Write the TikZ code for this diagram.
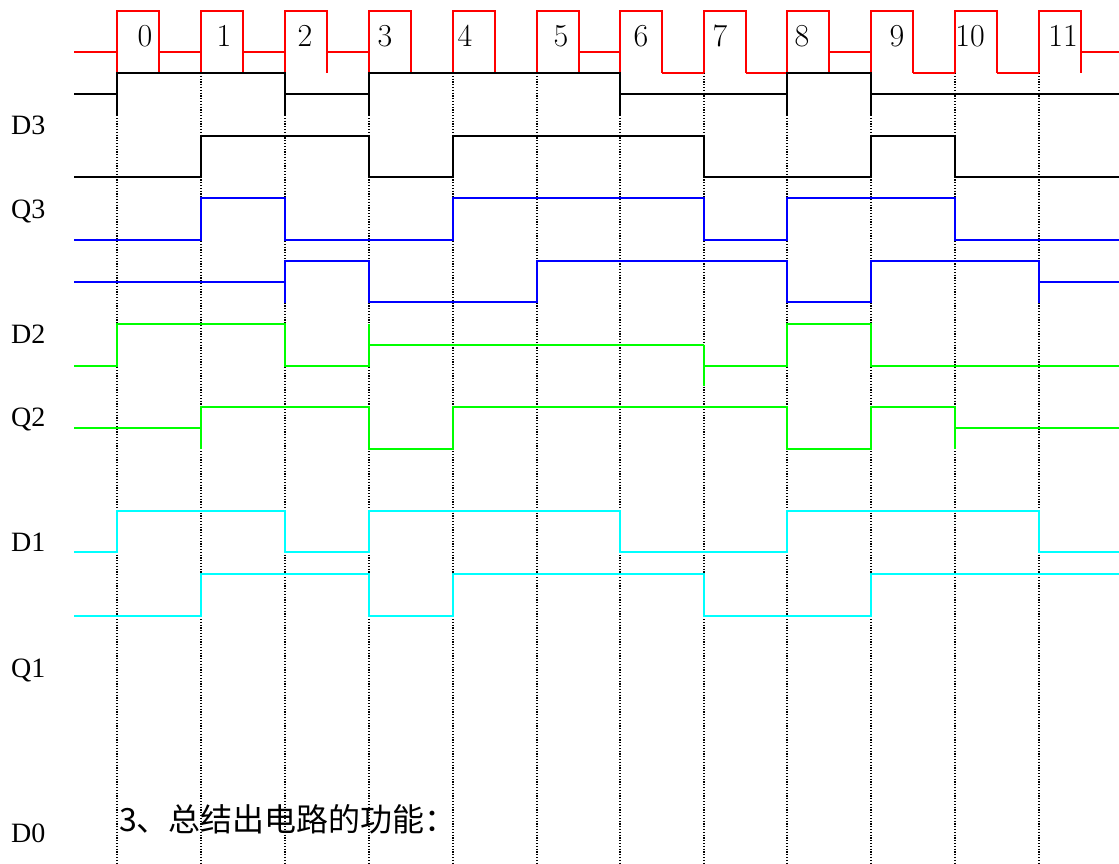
\documentclass[tikz,border=0pt]{standalone}
\usepackage{fontspec}
\newfontfamily\tnr{Liberation Serif}
\newfontfamily\cjk{Noto Sans CJK SC}
\definecolor{sigred}{RGB}{255,0,0}
\definecolor{sigblue}{RGB}{0,0,255}
\definecolor{siggreen}{RGB}{0,255,0}
\definecolor{sigcyan}{RGB}{0,255,255}
\tikzset{
  wave/.style={line width=1.8pt, line join=miter},
  grid/.style={black, line width=1.2pt, dash pattern=on 1.2pt off 1.6pt},
  rowlabel/.style={anchor=base west, inner sep=0pt, font=\tnr\fontsize{28}{30}\selectfont},
  ticklabel/.style={anchor=center, inner sep=0pt, font=\fontsize{32}{34}\selectfont},
}
\begin{document}
\begin{tikzpicture}[x=1pt,y=-1pt]
\useasboundingbox (0,0) rectangle (1119,864);
% dotted time grid
\foreach \x in {117,201,285,369,453,537,620,704,787,871,955,1039}
  \draw[grid] (\x,73) -- (\x,864);
% clock (red)
\foreach \x in {117,201,285,369,453,537,620,704,787,871,955,1039}
  \draw[wave,sigred] (\x,73) -- (\x,11) -- (\x+42,11) -- (\x+42,73);
\foreach \a/\b in {74/117,159/201,243/285,327/369,579/620,829/871,1081/1119}
  \draw[wave,sigred] (\a,52) -- (\b,52);
\foreach \a/\b in {411/453,495/537,662/704,746/787,913/955,997/1039}
  \draw[wave,sigred] (\a,73) -- (\b,73);
% clock numbers
\foreach \x/\t [count=\i from 0] in {145/0,224/1,305/2,385/3,465/4,561/5,641/6,720/7,802/8,897/9,970/10,1063/11}
  \node[ticklabel] (n\i) at (\x,36) {\t};
% black waveform 1
\draw[wave,black] (74,94) -- (117,94) -- (117,73) -- (285,73) -- (285,94) -- (369,94) -- (369,73) -- (620,73) -- (620,94) -- (787,94) -- (787,73) -- (871,73) -- (871,94) -- (1119,94);
\foreach \x in {117,285,369,620,787,871}
  \draw[wave,black] (\x,73) -- (\x,115);
% black waveform 2
\draw[wave,black] (74,177) -- (201,177) -- (201,136) -- (369,136) -- (369,177) -- (453,177) -- (453,136) -- (704,136) -- (704,177) -- (871,177) -- (871,136) -- (955,136) -- (955,177) -- (1119,177);
% blue Q3
\draw[wave,sigblue] (74,240) -- (201,240) -- (201,198) -- (285,198) -- (285,240) -- (453,240) -- (453,198) -- (704,198) -- (704,240) -- (787,240) -- (787,198) -- (955,198) -- (955,240) -- (1119,240);
% blue second
\draw[wave,sigblue] (74,282) -- (285,282);
\draw[wave,sigblue] (285,303) -- (285,261) -- (369,261) -- (369,302) -- (537,302) -- (537,261) -- (787,261) -- (787,302) -- (871,302) -- (871,261) -- (1039,261) -- (1039,303);
\draw[wave,sigblue] (1039,282) -- (1119,282);
% green D2
\draw[wave,siggreen] (74,366) -- (117,366) -- (117,324) -- (285,324) -- (285,366) -- (369,366) -- (369,324);
\draw[wave,siggreen] (369,345) -- (704,345);
\draw[wave,siggreen] (704,345) -- (704,386);
\draw[wave,siggreen] (704,366) -- (787,366) -- (787,324) -- (871,324) -- (871,366) -- (1119,366);
% green Q2
\draw[wave,siggreen] (74,428) -- (201,428);
\draw[wave,siggreen] (201,449) -- (201,407) -- (369,407) -- (369,449) -- (453,449) -- (453,407) -- (787,407) -- (787,449) -- (871,449) -- (871,407) -- (955,407) -- (955,449);
\draw[wave,siggreen] (955,428) -- (1119,428);
% cyan D1
\draw[wave,sigcyan] (74,552) -- (117,552) -- (117,511) -- (285,511) -- (285,552) -- (369,552) -- (369,511) -- (620,511) -- (620,552) -- (787,552) -- (787,511) -- (1039,511) -- (1039,552) -- (1119,552);
% cyan Q1
\draw[wave,sigcyan] (74,616) -- (201,616) -- (201,574) -- (369,574) -- (369,616) -- (453,616) -- (453,574) -- (704,574) -- (704,616) -- (871,616) -- (871,574) -- (1119,574);
% row labels
\node[rowlabel] (lD3) at (11,135) {D3};
\node[rowlabel] (lQ3) at (11,218) {Q3};
\node[rowlabel] (lD2) at (11,343) {D2};
\node[rowlabel] (lQ2) at (11,426) {Q2};
\node[rowlabel] (lD1) at (11,551) {D1};
\node[rowlabel] (lQ1) at (11,677) {Q1};
\node[rowlabel] (lD0) at (11,842) {D0};
% question text
\node[anchor=base west, inner sep=0pt, font=\cjk\fontsize{32}{34}\selectfont] (q3) at (119,831) {3、总结出电路的功能：};
\end{tikzpicture}
\end{document}
